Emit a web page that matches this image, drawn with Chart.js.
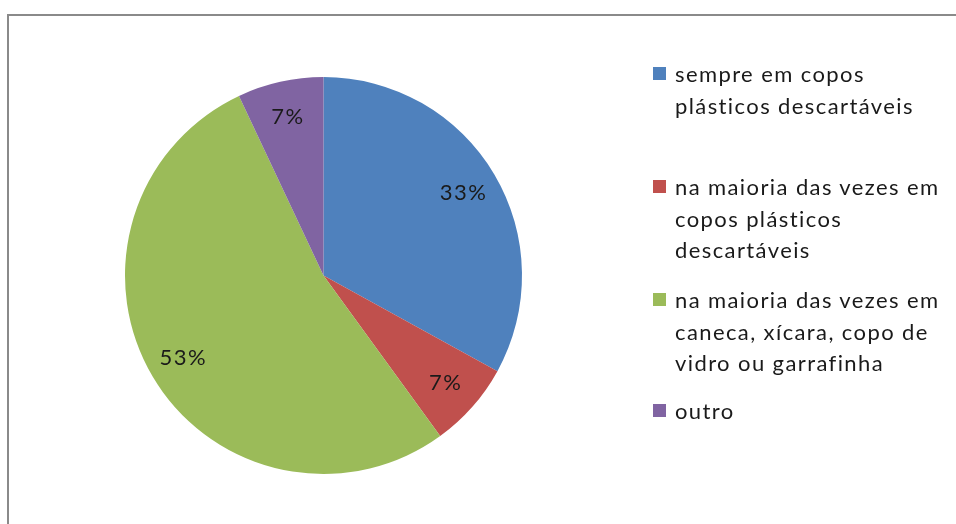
<!DOCTYPE html>
<html>
<head>
<meta charset="utf-8">
<script src="https://cdn.jsdelivr.net/npm/chart.js@4"></script>
<style>
  html, body { margin: 0; padding: 0; background: #fff; }
  #wrap { position: relative; width: 956px; height: 524px; overflow: hidden; }
  #frame { position: absolute; left: 7px; top: 14px; width: 1000px; height: 600px;
           border: 2px solid #8a8a8a; box-sizing: border-box; }
  #pie { position: absolute; left: 0; top: 0; }
  .leg-item { position: absolute; left: 675px; font-family: Lato, sans-serif; font-size: 22px;
              letter-spacing: 1.4px; line-height: 31.5px; color: #1a1a1a; white-space: nowrap; }
  .leg-swatch { position: absolute; left: -22px; top: 9px; width: 13px; height: 13px; }
</style>
</head>
<body>
<div id="wrap">
  <div id="frame"></div>
  <canvas id="pie" width="956" height="524"></canvas>
  <div id="legend"></div>
</div>
<script>
// chart data
const labels = [
  ['sempre em copos', 'plásticos descartáveis'],
  ['na maioria das vezes em', 'copos plásticos', 'descartáveis'],
  ['na maioria das vezes em', 'caneca, xícara, copo de', 'vidro ou garrafinha'],
  ['outro'],
];
const values = [33, 7, 53, 7];
const colors = ['#4F81BD', '#C0504D', '#9BBB59', '#8064A2'];
const legendTops = [58, 171, 284, 395];

// percentage labels drawn inside each slice
const pctLabels = {
  id: 'pctLabels',
  afterDatasetsDraw(chart) {
    const ctx = chart.ctx;
    const total = values.reduce((a, b) => a + b, 0);
    ctx.save();
    ctx.font = '22px Lato, sans-serif';
    ctx.letterSpacing = '1.5px';
    ctx.fillStyle = '#1a1a1a';
    ctx.textAlign = 'center';
    ctx.textBaseline = 'middle';
    chart.getDatasetMeta(0).data.forEach((arc, i) => {
      const mid = (arc.startAngle + arc.endAngle) / 2;
      const r = arc.outerRadius * 0.82;
      const x = arc.x + Math.cos(mid) * r;
      const y = arc.y + Math.sin(mid) * r;
      ctx.fillText(Math.round(values[i] / total * 100) + '%', x, y);
    });
    ctx.restore();
  },
};

new Chart(document.getElementById('pie'), {
  type: 'pie',
  data: {
    labels: labels.map(l => l.join(' ')),
    datasets: [{ data: values, backgroundColor: colors, borderWidth: 0 }],
  },
  options: {
    responsive: false,
    animation: false,
    layout: { padding: { left: 125, right: 434, top: 77, bottom: 50 } },
    plugins: { legend: { display: false }, tooltip: { enabled: false } },
  },
  plugins: [pctLabels],
});

document.getElementById('legend').innerHTML = labels.map((lines, i) =>
  `<div class="leg-item" style="top:${legendTops[i]}px"><span class="leg-swatch" style="background:${colors[i]}"></span>${lines.join('<br>')}</div>`
).join('');
</script>
</body>
</html>
